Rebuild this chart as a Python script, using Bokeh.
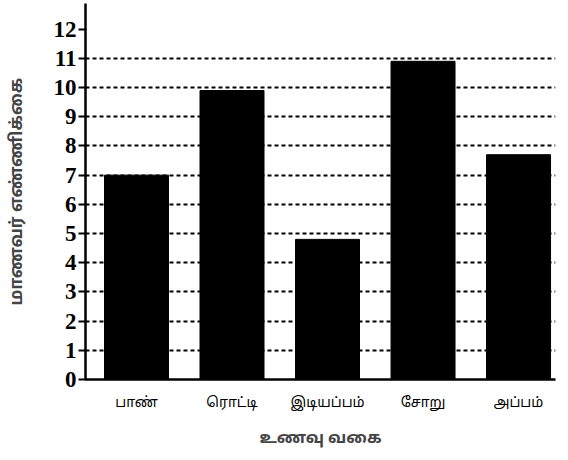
from bokeh.plotting import figure
from bokeh.models import FixedTicker, ColumnDataSource, Range1d
from bokeh.embed import file_html
from bokeh.resources import INLINE

categories = ["பாண்", "ரொட்டி", "இடியப்பம்", "சோறு", "அப்பம்"]
students = [7, 9.9, 4.8, 10.9, 7.7]
y_ticks = list(range(0, 13))

TAMIL = "'Noto Sans Tamil', 'Lohit Tamil', 'Latha', 'Noto Sans', sans-serif"

xs = list(range(len(categories)))
src = ColumnDataSource(dict(x=xs, top=students))

p = figure(width=560, height=452, output_backend="svg", toolbar_location=None,
           x_range=Range1d(-0.534, 4.387), y_range=Range1d(0, 12.88),
           min_border_left=85, min_border_right=5, min_border_top=3, min_border_bottom=73)
p.outline_line_color = None
p.background_fill_color = "white"
p.border_fill_color = "white"

p.vbar(x="x", top="top", width=0.67, bottom=0, source=src, fill_color="black", line_color="black")

p.xgrid.visible = False
p.ygrid.ticker = FixedTicker(ticks=list(range(1, 12)))
p.ygrid.grid_line_color = "black"
p.ygrid.grid_line_width = 2
p.ygrid.grid_line_dash = "4 3"

p.yaxis.ticker = FixedTicker(ticks=y_ticks)
p.yaxis.axis_line_width = 2.5
p.yaxis.axis_line_color = "black"
p.yaxis.major_tick_line_width = 2
p.yaxis.major_tick_in = 1
p.yaxis.major_tick_out = 7
p.yaxis.minor_tick_line_color = None
p.yaxis.major_label_text_font = "Liberation Serif"
p.yaxis.major_label_text_font_style = "bold"
p.yaxis.major_label_text_font_size = "23px"
p.yaxis.major_label_text_color = "black"
p.yaxis.major_label_standoff = 2
p.yaxis.axis_label = "மாணவர் எண்ணிக்கை"
p.yaxis.axis_label_text_font = TAMIL
p.yaxis.axis_label_text_font_style = "bold"
p.yaxis.axis_label_text_font_size = "17px"
p.yaxis.axis_label_standoff = 23

p.xaxis.ticker = FixedTicker(ticks=xs)
p.xaxis.major_label_overrides = {i: c for i, c in enumerate(categories)}
p.xaxis.axis_line_width = 2.5
p.xaxis.axis_line_color = "black"
p.xaxis.major_tick_line_color = None
p.xaxis.minor_tick_line_color = None
p.xaxis.major_label_text_font = TAMIL
p.xaxis.major_label_text_font_size = "14px"
p.xaxis.major_label_text_color = "black"
p.xaxis.major_label_standoff = 9
p.xaxis.axis_label = "உணவு வகை"
p.xaxis.axis_label_text_font = TAMIL
p.xaxis.axis_label_text_font_style = "bold"
p.xaxis.axis_label_text_font_size = "16px"
p.xaxis.axis_label_standoff = 14

open("out.html", "w").write(file_html(p, INLINE))
